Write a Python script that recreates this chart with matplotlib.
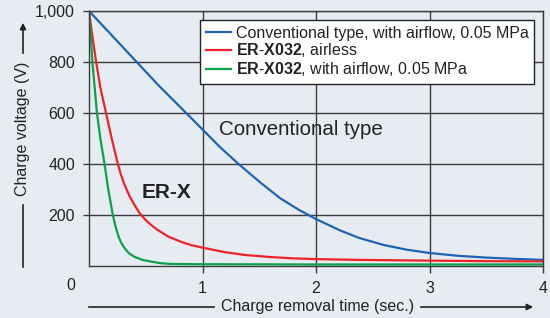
import matplotlib
matplotlib.use("Agg")
import matplotlib.pyplot as plt

# Data
conv_t = [0, 0.2, 0.42, 0.62, 0.8, 0.99, 1.15, 1.31, 1.5, 1.68, 1.85, 2.0, 2.21, 2.38, 2.6, 2.8,
          3.0, 3.25, 3.5, 3.75, 4.0]
conv_v = [1000, 905, 800, 705, 625, 540, 468, 403, 331, 267, 220, 184, 140, 110, 82, 64,
          51, 40, 33, 28, 24]

airless_t = [0, 0.03, 0.063, 0.1, 0.15, 0.2, 0.23, 0.254, 0.28, 0.31, 0.357, 0.4, 0.445, 0.5, 0.55,
             0.606, 0.7, 0.81, 0.9, 1.0, 1.2, 1.38, 1.6, 1.8, 2.0, 2.38, 3.0, 3.5, 4.0]
airless_v = [1000, 900, 800, 700, 600, 500, 445, 400, 360, 322, 274, 240, 208, 180, 160,
             141, 115, 95, 82, 72, 54, 43, 35, 30, 27, 24, 21, 19, 18]

airflow_t = [0, 0.015, 0.03, 0.05, 0.07, 0.1, 0.137, 0.17, 0.21, 0.23, 0.254, 0.28, 0.313, 0.35,
             0.4, 0.47, 0.55, 0.63, 0.72, 1.0, 2.0, 4.0]
airflow_v = [1000, 900, 800, 700, 600, 500, 400, 300, 200, 162, 124, 94, 70, 51,
             36, 24, 17, 11, 8, 7, 6, 6]

series_labels = ["Conventional type, with airflow, 0.05 MPa",
                 r"$\mathbf{ER}$-$\mathbf{X032}$, airless",
                 r"$\mathbf{ER}$-$\mathbf{X032}$, with airflow, 0.05 MPa"]
colors = ["#1f64b4", "#ee2228", "#0aa24a"]

x_ticks = [1, 2, 3, 4]
y_ticks = [200, 400, 600, 800, 1000]
y_tick_labels = ["200", "400", "600", "800", "1,000"]

plt.rcParams["font.family"] = ["Liberation Sans", "DejaVu Sans"]
plt.rcParams["mathtext.fontset"] = "custom"
plt.rcParams["mathtext.rm"] = "Liberation Sans"
plt.rcParams["mathtext.bf"] = "Liberation Sans:bold"

W, H = 550, 318
bg = "#e6ecf1"
grid_c = "#3c3c3c"
txt_c = "#222222"


def px(x, y):
    return (x / W, 1 - y / H)


fig = plt.figure(figsize=(W / 100, H / 100), dpi=100, facecolor=bg)
ax = fig.add_axes([89 / W, (H - 266) / H, (543 - 89) / W, (266 - 11) / H], facecolor=bg)

ax.plot(conv_t, conv_v, color=colors[0], lw=1.6, label=series_labels[0])
ax.plot(airless_t, airless_v, color=colors[1], lw=1.6, label=series_labels[1])
ax.plot(airflow_t, airflow_v, color=colors[2], lw=1.6, label=series_labels[2])

ax.set_xlim(0, 4)
ax.set_ylim(0, 1000)
ax.set_xticks(x_ticks)
ax.set_yticks(y_ticks)
ax.set_yticklabels(y_tick_labels)
ax.tick_params(axis="x", length=5, width=1, color=grid_c, pad=6, labelsize=11.5, labelcolor=txt_c)
ax.tick_params(axis="y", length=4, width=1, color=grid_c, pad=6, labelsize=11.5, labelcolor=txt_c)
ax.grid(True, color=grid_c, lw=1)
for s in ax.spines.values():
    s.set_color(grid_c)
    s.set_linewidth(1)

# origin label
fig.text(*px(71, 285), "0", ha="center", va="center", fontsize=11.5, color=txt_c)

# annotations inside the plot
ax.text(1.87, 537, "Conventional type", ha="center", va="center", fontsize=14.8, color=txt_c)
ax.text(0.68, 290, "ER-X", ha="center", va="center", fontsize=15, fontweight="bold", color=txt_c)

leg = ax.legend(loc="upper left", bbox_to_anchor=px(200, 20),
                bbox_transform=fig.transFigure, fontsize=11.5, frameon=True, fancybox=False,
                borderpad=0.35, handlelength=1.6, handletextpad=0.3, labelspacing=0.05,
                borderaxespad=0)
leg.get_frame().set_edgecolor("#222222")
leg.get_frame().set_linewidth(1)
leg.get_frame().set_facecolor("white")
leg.get_frame().set_alpha(1)
for t in leg.get_texts():
    t.set_color(txt_c)

# y axis label with arrow
fig.text(*px(23, 129), "Charge voltage (V)", rotation=90, ha="center", va="center",
         fontsize=11.5, color=txt_c)
fig.add_artist(plt.Line2D([23 / W, 23 / W], [px(0, 205)[1], px(0, 267)[1]], color=txt_c, lw=1.2))
ax.annotate("", xy=px(23, 20), xytext=px(23, 56), xycoords="figure fraction",
            textcoords="figure fraction",
            arrowprops=dict(arrowstyle="-|>", color=txt_c, lw=1.2, mutation_scale=9))

# x axis label with arrow
fig.text(*px(318, 307), "Charge removal time (sec.)", ha="center", va="center",
         fontsize=11.5, color=txt_c)
fig.add_artist(plt.Line2D([89 / W, 214 / W], [px(0, 307)[1]] * 2, color=txt_c, lw=1.2))
ax.annotate("", xy=px(536, 307), xytext=px(418, 307), xycoords="figure fraction",
            textcoords="figure fraction",
            arrowprops=dict(arrowstyle="-|>", color=txt_c, lw=1.2, mutation_scale=9))

fig.savefig("out.png", dpi=100, facecolor=bg)
